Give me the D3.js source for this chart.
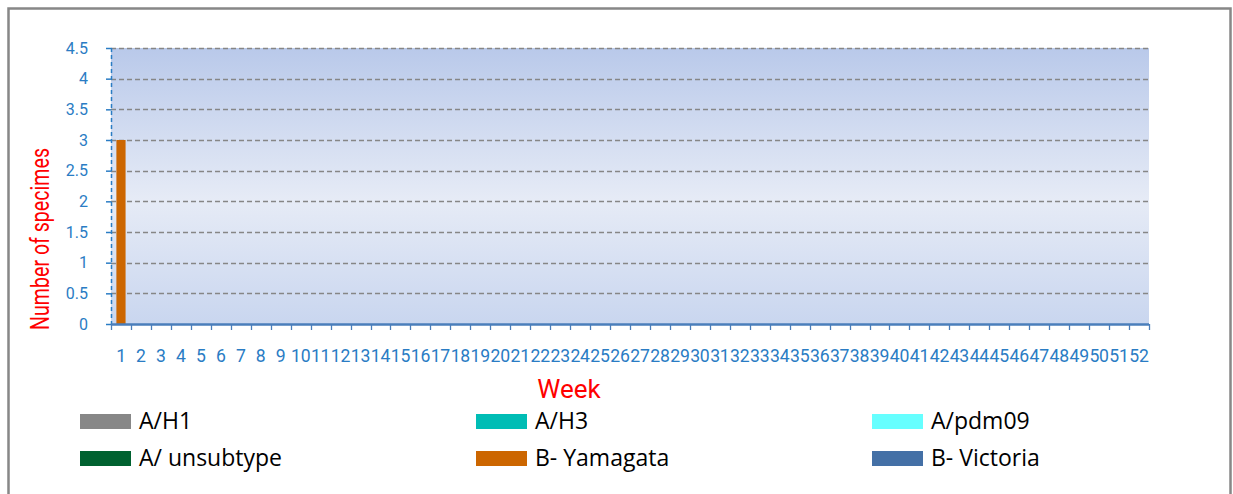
<!DOCTYPE html>
<html><head><meta charset="utf-8">
<script src="https://cdn.jsdelivr.net/npm/d3@7"></script>
<style>body{margin:0;background:#fff;} svg{display:block;font-family:Roboto,"Open Sans",sans-serif;}</style>
</head><body>
<svg id="c" width="1233" height="494"></svg>
<script>
const weeks = d3.range(1, 53).map(String);
const seriesNames = ["A/H1", "A/H3", "A/pdm09", "A/ unsubtype", "B- Yamagata", "B- Victoria"];
const seriesColors = ["#878787", "#00bdb5", "#66ffff", "#006130", "#cc6600", "#4470a6"];
const AH1 = new Array(52).fill(0);
const AH3 = new Array(52).fill(0);
const Apdm09 = new Array(52).fill(0);
const Aunsub = new Array(52).fill(0);
const BYamagata = [3].concat(new Array(51).fill(0));
const BVictoria = new Array(52).fill(0);
const yTicks = [0, 0.5, 1, 1.5, 2, 2.5, 3, 3.5, 4, 4.5];

const allSeries = [AH1, AH3, Apdm09, Aunsub, BYamagata, BVictoria];
const table = weeks.map((w, i) => {
  const o = {week: w};
  seriesNames.forEach((s, j) => o[s] = allSeries[j][i]);
  return o;
});
const stacked = d3.stack().keys(seriesNames)(table);

const svg = d3.select("#c");
// outer frame
svg.append("rect").attr("x", 8.5).attr("y", 8.5).attr("width", 1222).attr("height", 495)
  .attr("fill", "#fff").attr("stroke", "#878787").attr("stroke-width", 2.5);

const L = 111, R = 1149, T = 48, B = 324;
const x = d3.scaleBand().domain(weeks).range([L, R]).paddingInner(0).paddingOuter(0);
const y = d3.scaleLinear().domain([0, 4.5]).range([B, T]);

const defs = svg.append("defs");
const g = defs.append("linearGradient").attr("id", "bg").attr("x1", 0).attr("y1", 0).attr("x2", 0).attr("y2", 1);
g.append("stop").attr("offset", "0%").attr("stop-color", "#b9c9ea");
g.append("stop").attr("offset", "55%").attr("stop-color", "#e6ebf6");
g.append("stop").attr("offset", "100%").attr("stop-color", "#c9d6ef");
svg.append("rect").attr("x", L).attr("y", T).attr("width", R - L).attr("height", B - T).attr("fill", "url(#bg)");

// gridlines
svg.append("g").selectAll("line").data(yTicks.filter(d => d > 0)).join("line")
  .attr("x1", L).attr("x2", R).attr("y1", d => Math.round(y(d)) + 0.5).attr("y2", d => Math.round(y(d)) + 0.5)
  .attr("stroke", "#868686").attr("stroke-width", 1.6).attr("stroke-dasharray", "5,3");

// bars
const bw = x.bandwidth() * 0.46;
svg.append("g").selectAll("g").data(stacked).join("g")
  .attr("fill", (d, i) => seriesColors[i])
  .selectAll("rect").data(d => d.filter(p => p[1] - p[0] > 0)).join("rect")
  .attr("x", p => x(p.data.week) + (x.bandwidth() - bw) / 2)
  .attr("width", bw)
  .attr("y", p => y(p[1]))
  .attr("height", p => y(p[0]) - y(p[1]));

const blue = "#2a7cc4";
// y axis
const ya = svg.append("g").attr("transform", `translate(${L},0)`)
  .call(d3.axisLeft(y).tickValues(yTicks).tickSize(5).tickPadding(18).tickFormat(d3.format("")));
ya.select(".domain").attr("stroke", blue).attr("stroke-dasharray", "4,3").attr("stroke-width", 1.5).attr("d", `M0.5,${T}V${B}`);
ya.selectAll(".tick line").attr("stroke", blue).attr("stroke-width", 1.5).attr("x1", 0.5);
ya.selectAll(".tick text").attr("fill", blue).attr("font-size", 16).attr("font-family", "Roboto");

// x axis
const xa = svg.append("g").attr("transform", `translate(0,${B})`)
  .call(d3.axisBottom(x).tickSize(0).tickPadding(26));
xa.select(".domain").attr("stroke", "#4a7ebb").attr("stroke-width", 2.5).attr("d", `M${L},0.5H${R}`);
xa.selectAll(".tick text").attr("fill", blue).attr("font-size", 17.6).attr("font-family", "Roboto").attr("letter-spacing", -0.2);
// boundary ticks
svg.append("g").selectAll("line").data(weeks.concat(["end"])).join("line")
  .attr("x1", (d, i) => Math.round(L + i * x.step()) + 0.5)
  .attr("x2", (d, i) => Math.round(L + i * x.step()) + 0.5)
  .attr("y1", B).attr("y2", B + 6).attr("stroke", "#4a7ebb").attr("stroke-width", 1.3);

// axis titles
svg.append("text").attr("transform", `translate(49,239) rotate(-90)`)
  .attr("text-anchor", "middle").attr("fill", "#ff0000").attr("font-size", 25.5)
  .attr("textLength", 182).attr("lengthAdjust", "spacingAndGlyphs").text("Number of specimes");
svg.append("text").attr("x", 569).attr("y", 398).attr("text-anchor", "middle")
  .attr("fill", "#ff0000").attr("font-size", 26).text("Week");

// legend
const legX = [80, 476, 872], legY = [414, 451];
const lg = svg.append("g").selectAll("g").data(seriesNames).join("g")
  .attr("transform", (d, i) => `translate(${legX[i % 3]},${legY[Math.floor(i / 3)]})`);
lg.append("rect").attr("width", 51).attr("height", 15).attr("fill", (d, i) => seriesColors[i]);
lg.append("text").attr("x", 59).attr("y", 15).attr("font-size", 23).attr("font-family", "Open Sans")
  .attr("fill", "#000").text(d => d);
</script>
</body></html>
